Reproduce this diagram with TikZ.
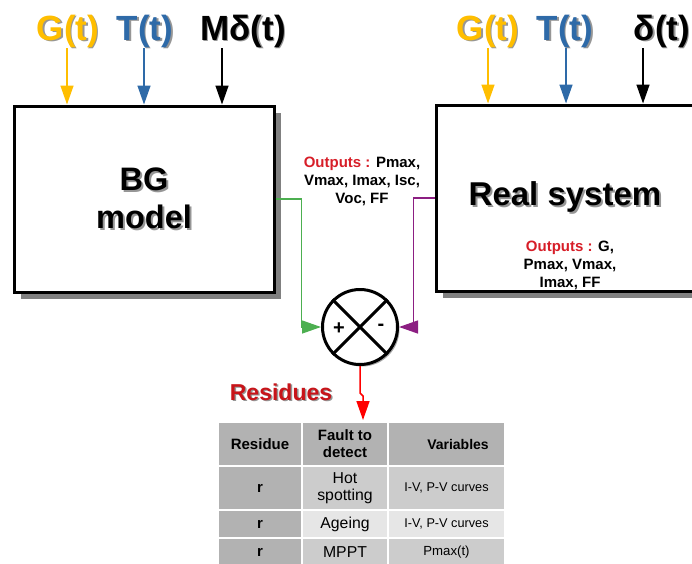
\documentclass[tikz,border=0pt]{standalone}
\usepackage{fontspec}
\setmainfont{Liberation Sans}
\usetikzlibrary{shadows,arrows.meta}
\definecolor{cgold}{RGB}{255,190,0}
\definecolor{cblue}{RGB}{46,106,168}
\definecolor{cgreen}{RGB}{76,175,80}
\definecolor{cpurple}{RGB}{140,30,130}
\definecolor{cred}{RGB}{215,30,40}
\definecolor{cdred}{RGB}{200,20,25}
\definecolor{shgray}{RGB}{150,150,150}
\definecolor{tdark}{RGB}{178,178,178}
\definecolor{tmid}{RGB}{204,204,204}
\definecolor{tlight}{RGB}{230,230,230}
\newcommand\txtsh[3][1.5pt]{\makebox[0pt][l]{\kern#1\raisebox{-#1}{\textcolor{shgray}{#3}}}\textcolor{#2}{#3}}
\begin{document}
\begin{tikzpicture}[x=1pt,y=-1pt,
  blk/.style={draw=black, line width=3pt, fill=white, inner sep=0pt,
    drop shadow={shadow xshift=7pt, shadow yshift=-7pt, fill=black!50, opacity=1}},
  biglbl/.style={font=\fontsize{35}{42}\selectfont\bfseries, inner sep=0pt, anchor=base},
  inarr/.style={line width=1.5pt, -{Triangle[length=19pt,width=13pt]}},
  outarr/.style={line width=1.3pt, -{Triangle[length=19pt,width=13pt]}},
  outtxt/.style={font=\fontsize{15}{18}\selectfont\bfseries, align=center, inner sep=0pt},
  cell/.style={draw=white, line width=1.5pt, inner sep=0pt, align=center, font=\fontsize{15.8}{17}\selectfont},
  cellb/.style={cell, font=\fontsize{15}{17}\selectfont\bfseries},
]
\useasboundingbox (0,0) rectangle (692,563);

% blocks
\node[blk, minimum width=260pt, minimum height=186pt, align=center,
      font=\fontsize{32.5}{38}\selectfont\bfseries] (bg) at (144,199)
      {\txtsh[2pt]{black}{BG}\\\txtsh[2pt]{black}{model}};
\node[blk, minimum width=264pt, minimum height=186pt] (rs) at (568,198) {};
\node[font=\fontsize{33}{40}\selectfont\bfseries, inner sep=0pt] (rst) at (565,198) {\txtsh[2pt]{black}{Real system}};
\node[outtxt] (ro) at (570,265) {\textcolor{cred}{Outputs :} G,\\Pmax, Vmax,\\Imax, FF};
\node[outtxt] (lo) at (362,181) {\textcolor{cred}{Outputs :} Pmax,\\Vmax, Imax, Isc,\\Voc, FF};

% input labels
\node[biglbl] (gL) at (68,40) {\txtsh{cgold}{G(t)}};
\node[biglbl] (tL) at (145,40) {\txtsh{cblue}{T(t)}};
\node[biglbl] (mL) at (243,40) {\txtsh{black}{Mδ(t)}};
\node[biglbl] (gR) at (488,40) {\txtsh{cgold}{G(t)}};
\node[biglbl] (tR) at (565,40) {\txtsh{cblue}{T(t)}};
\node[biglbl] (dR) at (662,40) {\txtsh{black}{δ(t)}};

% input arrows
\coordinate (a1) at (67,48);
\coordinate (a2) at (144,48);
\coordinate (a3) at (222,48);
\coordinate (b1) at (488,48);
\coordinate (b2) at (566,48);
\coordinate (b3) at (643,48);
\draw[inarr, cgold] (a1) -- (a1 |- bg.north);
\draw[inarr, cblue] (a2) -- (a2 |- bg.north);
\draw[inarr, black] (a3) -- (a3 |- bg.north);
\draw[inarr, cgold] (b1) -- (b1 |- rs.north);
\draw[inarr, cblue] (b2) -- (b2 |- rs.north);
\draw[inarr, black] (b3) -- (b3 |- rs.north);

% comparator
\node[circle, draw, line width=3pt, fill=white, minimum size=75pt, inner sep=0pt,
      drop shadow={shadow xshift=2pt, shadow yshift=-2pt, fill=black!35, opacity=1}] (sum) at (360,327) {};
\draw[line width=3pt] (sum.north west) -- (sum.south east);
\draw[line width=3pt] (sum.north east) -- (sum.south west);
\node[font=\fontsize{20}{24}\selectfont\bfseries, inner sep=0pt] (plus) at (339,329) {+};
\node[font=\fontsize{20}{24}\selectfont\bfseries, inner sep=0pt] (minus) at (381,327) {-};

% outputs to comparator
\draw[outarr, cgreen] (bg.east) -- ++(26,0) |- (sum.west);
\draw[outarr, cpurple] (rs.west) -- ++(-21,0) |- (sum.east);
\draw[line width=1.5pt, red, -{Triangle[length=19pt,width=13pt]}] (sum.south) -- ++(0,27) -- ++(3,3) -- ++(0,24);

\node[font=\fontsize{23}{28}\selectfont\bfseries, inner sep=0pt] (res) at (281,393) {\txtsh{cdred}{Residues}};

% table
\node[cellb, fill=tdark, minimum width=84pt, minimum height=44pt] (h1) at (260,444) {Residue};
\node[cellb, fill=tdark, minimum width=86pt, minimum height=44pt] (h2) at (345,444) {Fault to\\detect};
\node[cellb, fill=tdark, minimum width=117pt, minimum height=44pt, font=\fontsize{14}{17}\selectfont\bfseries] (h3) at (446.5,444) {\hspace*{23pt}Variables};

\node[cellb, fill=tdark, minimum width=84pt, minimum height=44pt] (r1a) at (260,488) {r};
\node[cell, fill=tmid, minimum width=86pt, minimum height=44pt] (r1b) at (345,488) {Hot\\spotting};
\node[cell, fill=tmid, minimum width=117pt, minimum height=44pt, font=\fontsize{12.7}{14}\selectfont] (r1c) at (446.5,488) {I-V, P-V curves};

\node[cellb, fill=tdark, minimum width=84pt, minimum height=28pt] (r2a) at (260,524) {r};
\node[cell, fill=tlight, minimum width=86pt, minimum height=28pt] (r2b) at (345,524) {Ageing};
\node[cell, fill=tlight, minimum width=117pt, minimum height=28pt, font=\fontsize{12.7}{14}\selectfont] (r2c) at (446.5,524) {I-V, P-V curves};

\node[cellb, fill=tdark, minimum width=84pt, minimum height=28pt] (r3a) at (260,552) {r};
\node[cell, fill=tmid, minimum width=86pt, minimum height=28pt] (r3b) at (345,552) {MPPT};
\node[cell, fill=tmid, minimum width=117pt, minimum height=28pt, font=\fontsize{13.2}{15}\selectfont] (r3c) at (446.5,552) {Pmax(t)};
\end{tikzpicture}
\end{document}
